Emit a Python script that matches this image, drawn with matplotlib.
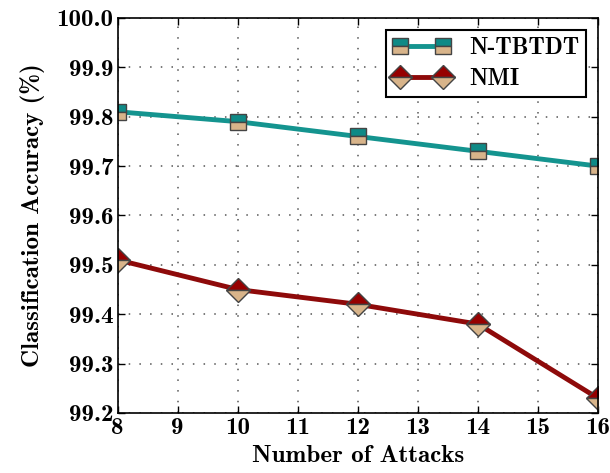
import matplotlib
matplotlib.use("Agg")
import matplotlib.pyplot as plt

# data
attacks = [8, 10, 12, 14, 16]
ntbtdt = [99.81, 99.79, 99.76, 99.73, 99.70]
nmi = [99.51, 99.45, 99.42, 99.38, 99.23]

plt.rcParams['font.family'] = ['cmb10', 'DejaVu Serif']
plt.rcParams['font.weight'] = 'bold'
plt.rcParams['axes.unicode_minus'] = False

fig = plt.figure(figsize=(6.1, 4.73), dpi=100)
ax = fig.add_axes([0.193, 0.127, 0.787, 0.835])

tan = '#d8b48a'
ax.plot(attacks, ntbtdt, color='#14948f', lw=3.5, marker='s', ms=12,
        fillstyle='top', markerfacecolor='#0e8a86', markerfacecoloralt=tan,
        markeredgecolor='#444444', markeredgewidth=1.0, label='N-TBTDT')
ax.plot(attacks, nmi, color='#8e0a0a', lw=3.5, marker='D', ms=12,
        fillstyle='top', markerfacecolor='#960000', markerfacecoloralt=tan,
        markeredgecolor='#444444', markeredgewidth=1.0, label='NMI')

ax.set_xlim(8, 16)
ax.set_ylim(99.2, 100.0)
ax.set_xticks(range(8, 17))
ax.set_yticks([99.2, 99.3, 99.4, 99.5, 99.6, 99.7, 99.8, 99.9, 100.0])
ax.set_yticklabels(['99.2', '99.3', '99.4', '99.5', '99.6', '99.7', '99.8', '99.9', '100.0'])
ax.tick_params(direction='in', top=True, right=True, length=5, width=1,
               labelsize=18, pad=3)
ax.grid(True, color='#555555', linestyle=(0, (1, 6)), linewidth=1.1)
for s in ax.spines.values():
    s.set_linewidth(1.2)

ax.set_xlabel('Number of Attacks', fontsize=18, labelpad=4)
ax.set_ylabel('Classification Accuracy (%)', fontsize=18, labelpad=8)

leg = ax.legend(loc='upper right', numpoints=2, fontsize=17, fancybox=False,
                edgecolor='black', framealpha=1, handlelength=2.4,
                borderpad=0.3, labelspacing=0.4, handletextpad=0.8)
leg.get_frame().set_linewidth(1.5)

fig.savefig('out.png', dpi=100)
